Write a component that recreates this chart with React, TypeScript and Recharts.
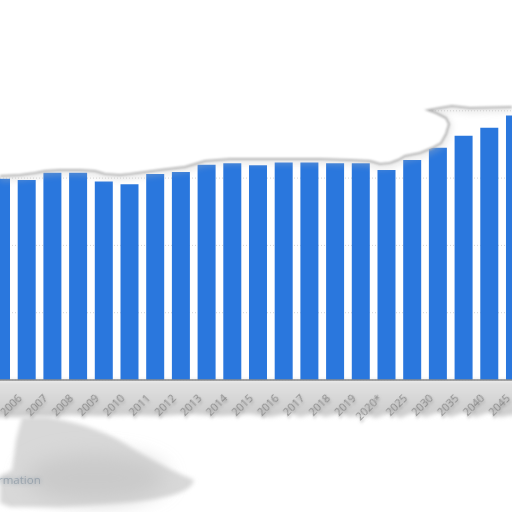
import React from 'react';
import { BarChart, Bar, XAxis, YAxis, CartesianGrid } from 'recharts';

const years = ['2005', '2006', '2007', '2008', '2009', '2010', '2011', '2012', '2013', '2014', '2015', '2016', '2017', '2018', '2019', '2020*', '2025', '2030', '2035', '2040', '2045'];
const values = [299, 297, 308, 308, 295, 291, 306, 309, 320, 322, 319, 323, 323, 322, 322, 312, 327, 345, 363, 375, 393];
const yTicks = [0, 100, 200, 300, 400];

const data = years.map((y, i) => ({ year: y, value: values[i] }));

const Tick = (props: any) => {
  const { x, y, payload } = props;
  return (
    <g transform={`translate(${x - 4},${y + 19})`}>
      <text
        x={0}
        y={0}
        textAnchor="end"
        transform="rotate(-45)"
        fontFamily="'Open Sans', sans-serif"
        fontSize={11}
        fill="#8c8c8c"
        filter="url(#lblShadow)"
      >
        {payload.value}
      </text>
    </g>
  );
};

const topTear =
  'M0,176 L20,175 L35,173 L45,171 L60,170 L80,170 L95,171 L105,174 L120,175 L130,174 L145,172 L160,170 L185,167 L195,164 L205,161 L230,159 L280,159 L320,159 L350,160 L370,161 L380,164 L390,163 L398,160 L405,156 L420,153 L432,148 L441,143 L446,134 L449,124 L446,118 L436,113 L428,110 L440,108 L452,106 L470,108 L512,107';

export default function App() {
  return (
    <div style={{ position: 'fixed', left: 0, top: 0, width: 512, height: 512, overflow: 'hidden', background: '#ffffff' }}>
      <svg width={512} height={512} style={{ position: 'absolute', left: 0, top: 0, zIndex: 0 }}>
        <defs>
          <filter id="blur2" x="-20%" y="-50%" width="140%" height="200%">
            <feGaussianBlur stdDeviation="2" />
          </filter>
          <filter id="blur10" x="-50%" y="-50%" width="200%" height="200%">
            <feGaussianBlur stdDeviation="10" />
          </filter>
          <linearGradient id="bandGrad" x1="0" y1="0" x2="0" y2="1">
            <stop offset="0" stopColor="#e2e2e2" />
            <stop offset="1" stopColor="#cbcbcb" />
          </linearGradient>
        </defs>
        {/* label band below axis */}
        <path
          d="M-10,380 L522,380 L522,413 L500,417 L490,412 L475,417 L465,412 L450,417 L440,412 L425,417 L415,412 L400,418 L390,413 L375,418 L365,413 L350,417 L340,413 L325,417 L315,413 L300,417 L290,413 L270,417 L250,414 L220,416 L190,414 L160,416 L130,415 L100,416 L70,415 L50,417 L20,417 L-10,417 Z"
          fill="url(#bandGrad)"
          filter="url(#blur2)"
        />
        {/* bottom-left torn piece */}
        <path
          d="M22,417 L48,417 C80,423 110,432 135,450 C160,465 180,474 194,480 C192,491 172,498 130,502 L60,507 L10,507 L0,503 L0,476 L12,470 L16,440 Z"
          fill="#d8d8d8"
          filter="url(#blur2)"
        />
        <ellipse cx={95} cy={478} rx={70} ry={24} fill="#cacaca" filter="url(#blur10)" />
        <text x={-2} y={484} fontFamily="'Open Sans', sans-serif" fontSize={11.5} fill="#8896a2" filter="url(#blur2)" opacity={0.9}>
          rmation
        </text>
        <text x={-2} y={484} fontFamily="'Open Sans', sans-serif" fontSize={11.5} fill="#8896a2" opacity={0.7}>
          rmation
        </text>
      </svg>

      <div style={{ position: 'absolute', left: -11.85, top: 0, zIndex: 1 }}>
        <BarChart width={539.7} height={440} data={data} margin={{ top: 110.8, right: 0, left: 0, bottom: 0 }}>
          <defs>
            <filter id="lblShadow" x="-30%" y="-60%" width="160%" height="220%">
              <feDropShadow dx={-1} dy={2} stdDeviation={1.8} floodColor="#707070" floodOpacity={0.6} />
            </filter>
          </defs>
          <CartesianGrid vertical={false} stroke="#d4d4d4" strokeDasharray="1 2" />
          <YAxis hide domain={[0, 400]} ticks={yTicks} />
          <XAxis
            dataKey="year"
            height={60}
            interval={0}
            tickLine={false}
            tickSize={0}
            tickMargin={0}
            axisLine={{ stroke: '#8a8a8a', strokeWidth: 1.5 }}
            tick={<Tick />}
          />
          <Bar dataKey="value" fill="#2a77dd" barSize={18} isAnimationActive={false} />
        </BarChart>
      </div>

      <svg width={512} height={512} style={{ position: 'absolute', left: 0, top: 0, zIndex: 2, pointerEvents: 'none' }}>
        <defs>
          <filter id="tearBlur" x="-10%" y="-50%" width="120%" height="200%">
            <feGaussianBlur stdDeviation="1.2" />
          </filter>
          <filter id="tearBlur2" x="-10%" y="-50%" width="120%" height="200%">
            <feGaussianBlur stdDeviation="3" />
          </filter>
        </defs>
        <path d={topTear} fill="none" stroke="#bdbdbd" strokeWidth={6} opacity={0.35} filter="url(#tearBlur2)" transform="translate(0,2)" />
        <path d={`${topTear} L512,-10 L0,-10 Z`} fill="#ffffff" />
        <path d={topTear} fill="none" stroke="#b4b4b4" strokeWidth={2} filter="url(#tearBlur)" />
      </svg>
    </div>
  );
}
